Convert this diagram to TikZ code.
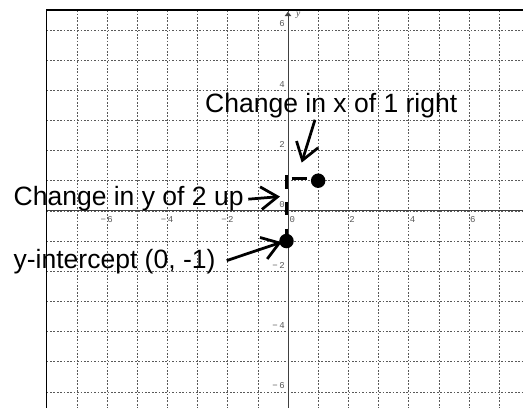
\documentclass[tikz,border=0pt]{standalone}
\usepackage{fontspec}
\setmainfont{Liberation Sans}
\newfontfamily\tickfont{Liberation Mono}
\newfontfamily\seriffont{Liberation Serif}
\usetikzlibrary{arrows.meta}
\begin{document}
\begin{tikzpicture}[x=1cm,y=1cm,
  gridline/.style={black!65, line width=0.5pt, dash pattern=on 1.6pt off 1.6pt},
  axisline/.style={black!75, line width=0.8pt},
  frameline/.style={black, line width=1.6pt},
  ticklabel/.style={font=\tickfont\fontsize{8.5}{8.5}\selectfont, text=black!65, inner sep=0pt},
  callout/.style={font=\fontsize{25}{25}\selectfont, inner sep=0pt, anchor=base west},
  pointer/.style={line width=2.6pt, -{Straight Barb[length=0.55cm, width=0.75cm]}},
  dot/.style={circle, fill=black, inner sep=0pt, minimum size=0.48cm},
  runline/.style={line width=3pt}
]
\useasboundingbox (-9.546,-6.53) rectangle (7.79,6.99);
% grid
\foreach \x in {-7,...,7} \draw[gridline] (\x,6.65) -- (\x,-6.53);
\foreach \y in {-6,...,6} \draw[gridline] (-8,\y) -- (7.79,\y);
% axes
\coordinate (xleft) at (-8,0);
\coordinate (xright) at (7.79,0);
\coordinate (ybot) at (0,-6.53);
\coordinate (ytop) at (0,6.6);
\draw[axisline] (xleft) -- (xright);
\draw[axisline, -{Triangle[length=4pt,width=6pt]}] (ybot) -- (ytop);
\node[font=\seriffont\itshape\fontsize{9}{9}\selectfont, text=black!70, inner sep=0pt] (ylab) at (0.34,6.47) {y};
% frame
\draw[frameline] (-8,-6.53) -- (-8,6.65) -- (7.79,6.65);
% x tick labels
\foreach \x in {-6,-4,-2} \node[ticklabel, anchor=west] at (\x+0.01,-0.3) {\llap{\char"2212\,}\the\numexpr-\x\relax};
\foreach \x in {2,4,6} \node[ticklabel, anchor=west] at (\x+0.03,-0.3) {\x};
\node[ticklabel, anchor=west] (x0) at (0.05,-0.3) {0};
% y tick labels
\foreach \y in {-6,-4,-2} \node[ticklabel, anchor=east] at (-0.1,\y+0.2) {\char"2212\,\the\numexpr-\y\relax};
\foreach \y in {0,2,4,6} \node[ticklabel, anchor=east] at (-0.1,\y+0.2) {\y};
% rise and run
\draw[runline, dash pattern=on 0.45cm off 0.44cm] (-0.05,1.19) -- (-0.05,-1);
\draw[runline] (0.12,1.08) -- (0.62,1.08);
\node[dot] (p1) at (1,1) {};
\node[dot] (p0) at (-0.05,-1) {};
% callouts
\node[callout] (cx) at (-2.75,3.27) {Change in x of 1 right};
\node[callout] (cy) at (-9.1,0.175) {Change in y of 2 up};
\node[callout] (yi) at (-9.1,-1.92) {y-intercept (0, -1)};
\coordinate (sx) at (0.895,3.02);
\coordinate (tx) at (0.454,1.60);
\coordinate (sy) at (-1.316,0.388);
\coordinate (ty) at (-0.265,0.474);
\coordinate (si) at (-2.03,-1.647);
\coordinate (ti) at (-0.209,-1.037);
\draw[pointer] (sx) -- (tx);
\draw[pointer] (sy) -- (ty);
\draw[pointer] (si) -- (ti);
\end{tikzpicture}
\end{document}
